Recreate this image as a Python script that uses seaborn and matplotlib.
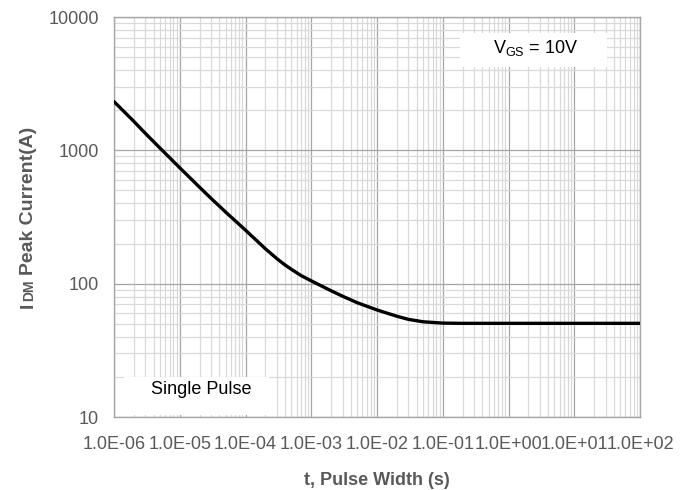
import numpy as np
import matplotlib
matplotlib.use("Agg")
import matplotlib.pyplot as plt
import seaborn as sns
from matplotlib.patches import Rectangle
from matplotlib.ticker import LogLocator, NullFormatter
from matplotlib.transforms import IdentityTransform

# values
pulse_width_s = [1e-6, 2e-6, 3e-6, 5e-6, 1e-5, 2e-5, 3e-5, 5e-5, 1e-4, 2e-4,
                 3e-4, 4e-4, 5e-4, 7e-4, 1e-3, 2e-3, 3e-3, 5e-3, 1e-2, 2e-2,
                 3e-2, 5e-2, 1e-1, 2e-1, 1e0, 1e1, 1e2]
idm_peak_a = [2320, 1650, 1340, 1040, 740, 529, 436, 344, 252, 183,
              154, 138, 128, 115, 105, 88.5, 80.5, 72, 63.5, 57,
              54, 51.8, 50.6, 50.4, 50.4, 50.4, 50.4]

x_ticks = [1e-6, 1e-5, 1e-4, 1e-3, 1e-2, 1e-1, 1e0, 1e1, 1e2]
y_ticks = [10, 100, 1000, 10000]
y_tick_labels = ["10", "100", "1000", "10000"]

GRAY_TXT = "#595959"

sns.set_theme(style="white")
plt.rcParams["font.family"] = ["Liberation Sans", "DejaVu Sans"]
plt.rcParams["mathtext.default"] = "regular"

W, H = 691, 490
fig = plt.figure(figsize=(W / 100, H / 100), dpi=100)
ax = fig.add_axes([114 / W, 73 / H, 526 / W, 400 / H])

sns.lineplot(x=pulse_width_s, y=idm_peak_a, color="black", linewidth=2.4,
             ax=ax, zorder=5)
ax.set_xscale("log")
ax.set_yscale("log")
ax.set_xlim(1e-6, 1e2)
ax.set_ylim(10, 1e4)

ax.set_xticks(x_ticks)
ax.set_xticklabels([f"{v:.1E}" for v in x_ticks])
ax.set_yticks(y_ticks)
ax.set_yticklabels(y_tick_labels)
ax.xaxis.set_minor_locator(LogLocator(base=10, subs=np.arange(2, 10), numticks=50))
ax.yaxis.set_minor_locator(LogLocator(base=10, subs=np.arange(2, 10), numticks=50))
ax.xaxis.set_minor_formatter(NullFormatter())
ax.yaxis.set_minor_formatter(NullFormatter())

ax.grid(which="major", color="#a6a6a6", linewidth=0.9)
ax.grid(which="minor", color="#d9d9d9", linewidth=0.9)
ax.tick_params(which="both", length=0, labelsize=13, colors=GRAY_TXT)
ax.tick_params(axis="x", pad=14)
ax.tick_params(axis="y", pad=11)
for sp in ax.spines.values():
    sp.set_color("#a6a6a6")
    sp.set_linewidth(1.0)

ax.set_xlabel("t, Pulse Width (s)", fontsize=13, fontweight="bold",
              color=GRAY_TXT, labelpad=13)
ax.set_ylabel("")

# annotation boxes
ax.add_patch(Rectangle((0.658, 0.875), 0.279, 0.085, transform=ax.transAxes,
                       facecolor="white", edgecolor="none", zorder=3))
ax.text(0.802, 0.922, r"V$_{GS}$ = 10V", transform=ax.transAxes, ha="center",
        va="center", fontsize=13, color="black", zorder=4)
ax.add_patch(Rectangle((0.019, 0.004), 0.276, 0.096, transform=ax.transAxes,
                       facecolor="white", edgecolor="none", zorder=3))
ax.text(0.165, 0.07, "Single Pulse", transform=ax.transAxes, ha="center",
        va="center", fontsize=13, color="black", zorder=4)

# y label with small-cap "DM"
fig.canvas.draw()
renderer = fig.canvas.get_renderer()
pieces = [("I", 14), ("DM", 10), ("Peak Current(A)", 14)]
gaps = [1, 5, 0]
objs = []
for s, fs in pieces:
    objs.append(fig.text(33, 0, s, rotation=90, rotation_mode="anchor",
                         ha="left", va="baseline", fontsize=fs,
                         fontweight="bold", color=GRAY_TXT,
                         transform=IdentityTransform()))
lengths = [o.get_window_extent(renderer).height for o in objs]
total = sum(lengths) + sum(gaps)
y = (H - 217) - total / 2
for o, ln, g in zip(objs, lengths, gaps):
    o.set_position((33, y))
    y += ln + g

fig.savefig("out.png", dpi=100)
